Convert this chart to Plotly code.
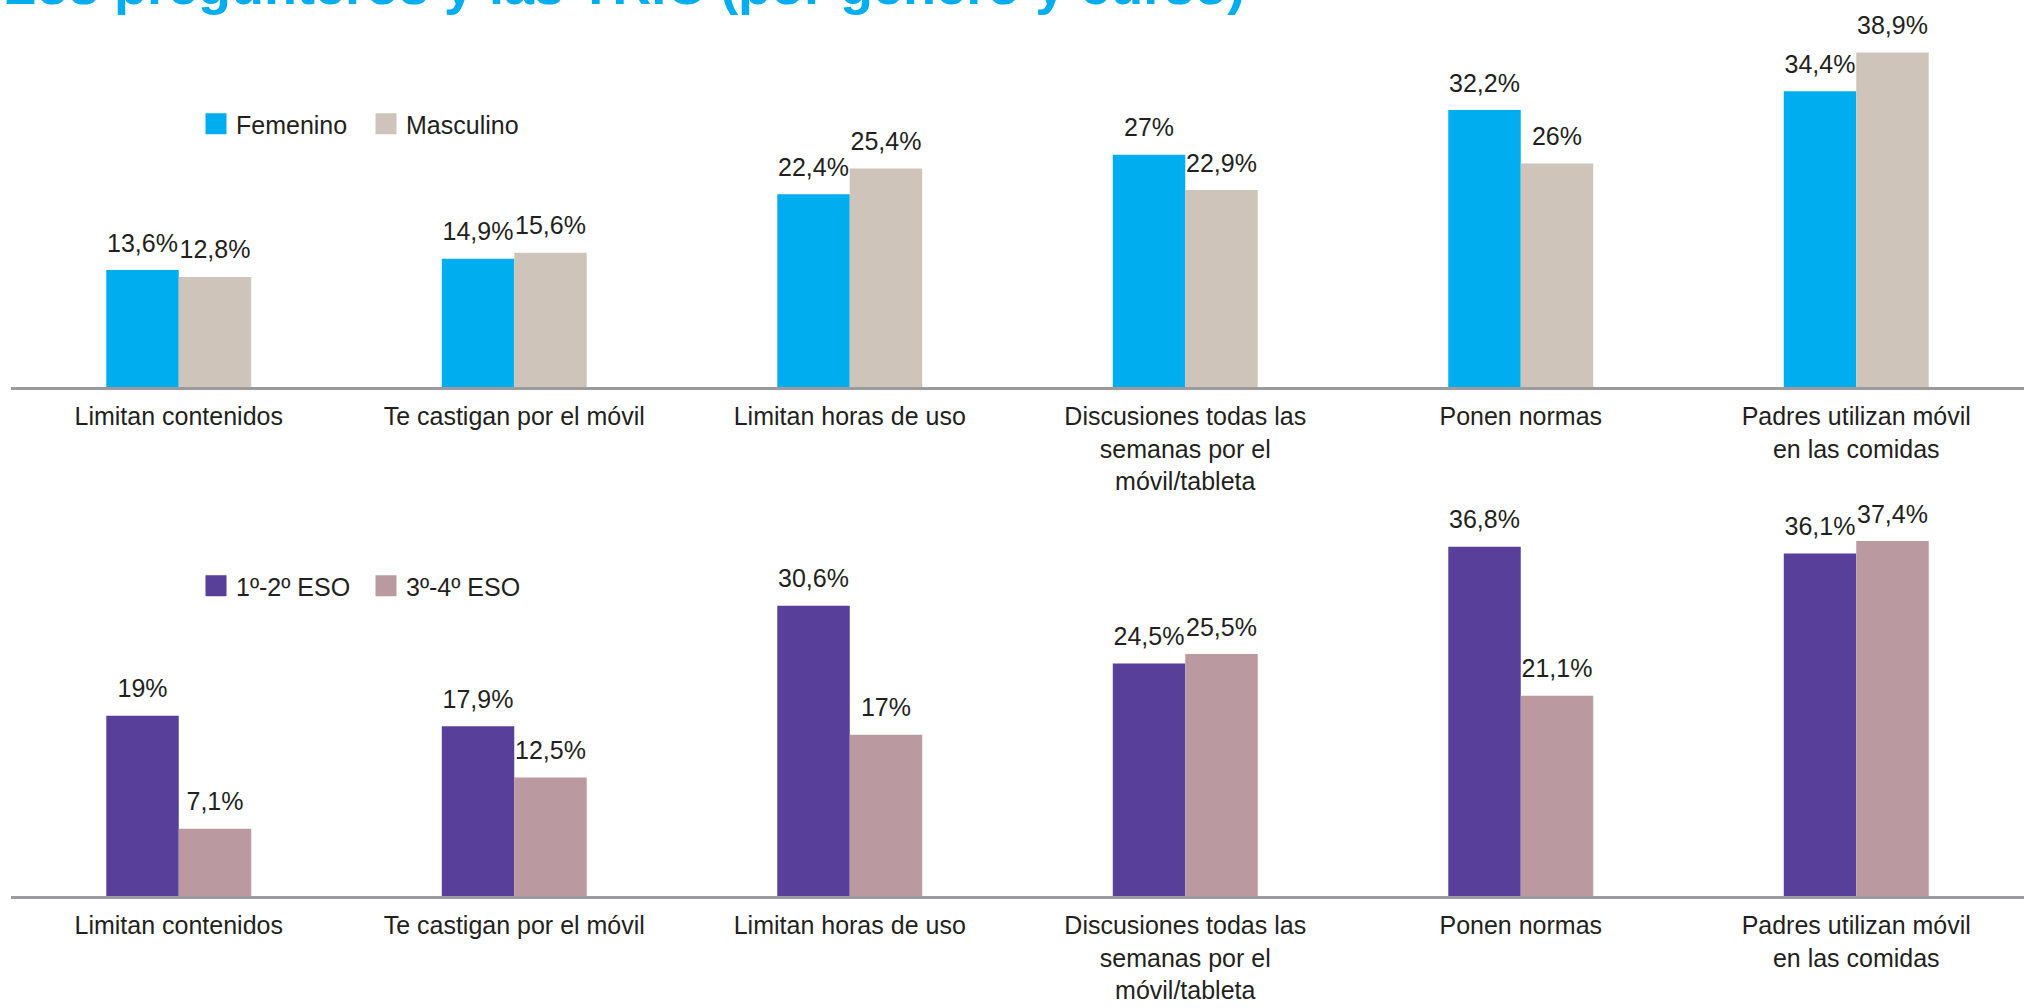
import plotly.graph_objects as go

categories = ["Limitan contenidos", "Te castigan por el móvil", "Limitan horas de uso",
              "Discusiones todas las semanas por el móvil/tableta", "Ponen normas",
              "Padres utilizan móvil en las comidas"]
tick_labels = ["Limitan contenidos", "Te castigan por el móvil", "Limitan horas de uso",
               "Discusiones todas las<br>semanas por el<br>móvil/tableta", "Ponen normas",
               "Padres utilizan móvil<br>en las comidas"]

femenino = [13.6, 14.9, 22.4, 27.0, 32.2, 34.4]
masculino = [12.8, 15.6, 25.4, 22.9, 26.0, 38.9]
eso_12 = [19.0, 17.9, 30.6, 24.5, 36.8, 36.1]
eso_34 = [7.1, 12.5, 17.0, 25.5, 21.1, 37.4]

title_text = "Los pregunteros y las TRIC (por género y curso)"

FONT = "Liberation Sans, Arial, sans-serif"
TXT = "#231f20"
C_FEM, C_MAS, C_12, C_34 = "#00aeef", "#cec4ba", "#583f99", "#ba9aa0"

W, H = 2024, 1008
ML, MR, MT, MB = 11, 0, 0, 112
PW, PH = W - ML - MR, H - MT - MB
GAP = 0.568


def fmt(v):
    return f"{v:g}".replace(".", ",") + "%"


fig = go.Figure()


def add_series(vals, name, color, xa, ya, leg):
    fig.add_trace(go.Bar(
        x=categories, y=vals, name=name, marker=dict(color=color, line=dict(width=0)),
        xaxis=xa, yaxis=ya, showlegend=False, hoverinfo="skip"))
    # value labels, grouped like the bars
    fig.add_trace(go.Scatter(
        x=categories, y=vals, mode="markers+text", text=[fmt(v) for v in vals],
        textposition="top center", cliponaxis=False,
        marker=dict(size=18, opacity=0),
        textfont=dict(family=FONT, size=25, color=TXT),
        xaxis=xa, yaxis=ya, showlegend=False, hoverinfo="skip"))
    # legend entry (on a hidden helper axis)
    fig.add_trace(go.Scatter(
        x=[None], y=[None], mode="markers", name=name,
        marker=dict(symbol="square", size=16, color=color, line=dict(color=color, width=5)),
        xaxis="x3", yaxis="y3", legend=leg, showlegend=True))


add_series(femenino, "Femenino", C_FEM, "x", "y", "legend")
add_series(masculino, "Masculino", C_MAS, "x", "y", "legend")
add_series(eso_12, "1º-2º ESO", C_12, "x2", "y2", "legend2")
add_series(eso_34, "3º-4º ESO", C_34, "x2", "y2", "legend2")

xa_common = dict(type="category", categoryorder="array", categoryarray=categories,
                 range=[-0.5, 5.5], showline=True, linecolor="#9b9b9f", linewidth=3,
                 ticks="", showgrid=False, zeroline=False, automargin=False,
                 tickvals=categories, ticktext=tick_labels, ticklabelstandoff=5,
                 tickfont=dict(family=FONT, size=25, color=TXT), fixedrange=True)
ya_common = dict(range=[0, 45], visible=False, showgrid=False, zeroline=False,
                 automargin=False, fixedrange=True)

leg_common = dict(orientation="h", xref="paper", yref="paper", xanchor="left",
                  yanchor="middle", font=dict(family=FONT, size=25, color=TXT),
                  bgcolor="rgba(0,0,0,0)", entrywidth=125, entrywidthmode="pixels",
                  itemclick=False, itemdoubleclick=False)

fig.update_layout(
    width=W, height=H,
    margin=dict(l=ML, r=MR, t=MT, b=MB, autoexpand=False),
    paper_bgcolor="white", plot_bgcolor="white",
    barmode="group", bargap=GAP, bargroupgap=0,
    scattermode="group", scattergap=GAP,
    xaxis=dict(domain=[0, 1], anchor="y", **xa_common),
    yaxis=dict(domain=[1 - 387 / PH, 1], anchor="x", **ya_common),
    xaxis2=dict(domain=[0, 1], anchor="y2", **xa_common),
    yaxis2=dict(domain=[0, (896 - 469) / PH], anchor="x2", **ya_common),
    xaxis3=dict(domain=[0, 0.01], anchor="y3", visible=False, fixedrange=True),
    yaxis3=dict(domain=[0, 0.01], anchor="x3", visible=False, fixedrange=True),
    legend=dict(x=(196 - ML) / PW, y=1 - 124 / PH, **leg_common),
    legend2=dict(x=(196 - ML) / PW, y=1 - 586 / PH, **leg_common),
    font=dict(family=FONT, color=TXT),
    annotations=[dict(text="<b>" + title_text + "</b>", xref="paper", yref="paper",
                      x=0, y=1, xanchor="left", yanchor="bottom", xshift=-10, yshift=-17,
                      showarrow=False, font=dict(family=FONT, size=54, color=C_FEM))],
)

fig.write_html("out.html", config={"displayModeBar": False, "staticPlot": True},
               post_script="document.body.style.margin='0';document.body.style.overflow='hidden';")
